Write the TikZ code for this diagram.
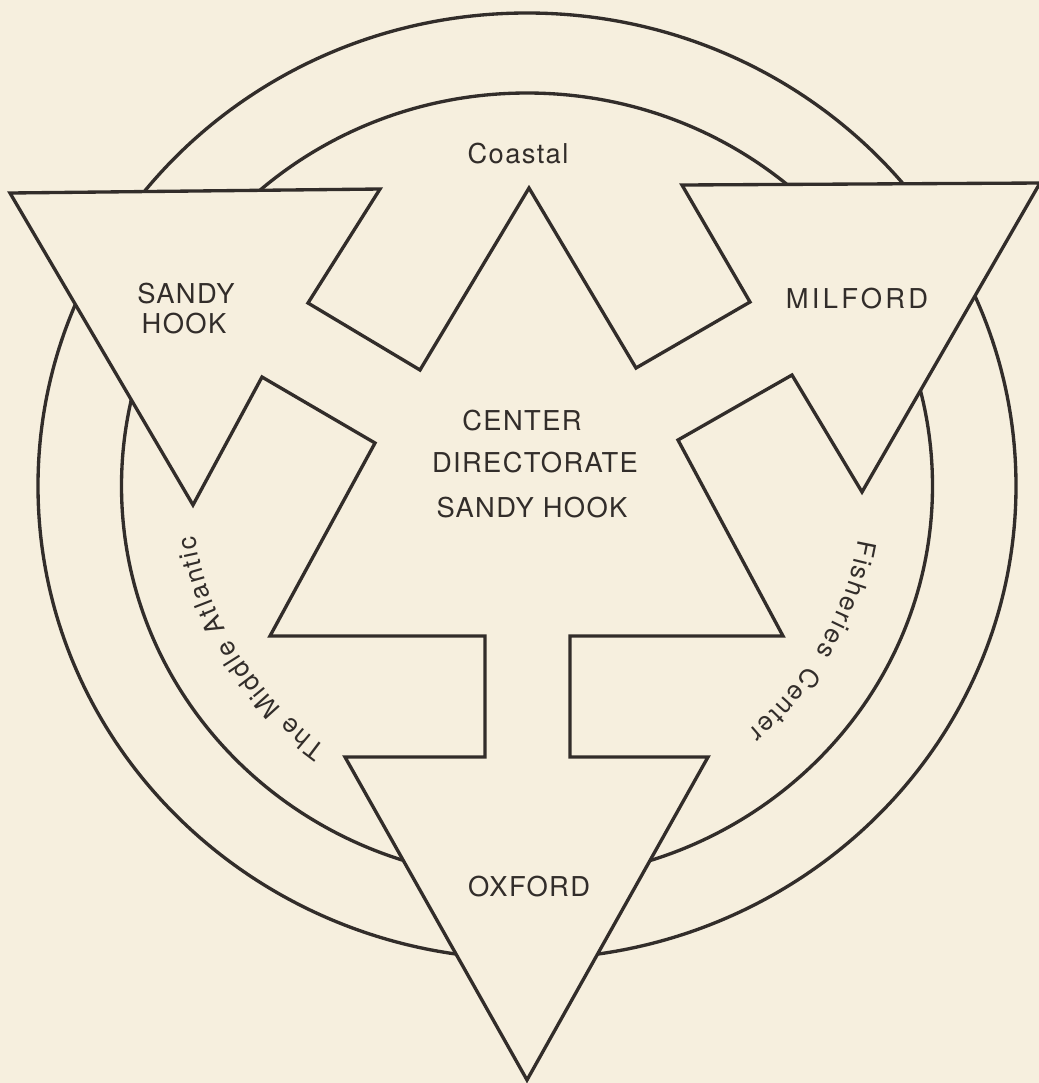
\documentclass[tikz,border=0pt]{standalone}
\usepackage{fontspec}
\setmainfont[LetterSpace=5]{TeX Gyre Heros}
\usetikzlibrary{decorations.text}
\definecolor{paper}{RGB}{246,239,222}
\definecolor{ink}{RGB}{50,45,42}
\newcommand\lblfont{\fontsize{20.5}{24}\selectfont}
\newcommand\arcfont{\fontsize{19.5}{22}\selectfont}
\begin{document}
\begin{tikzpicture}[x=0.75pt,y=-0.75pt,
  outline/.style={draw=ink,line width=2.5pt,line join=miter},
  ring/.style={draw=ink,line width=2.5pt},
  lbl/.style={text=ink,font=\lblfont,inner sep=0pt,anchor=base},
  arclbl/.style={decorate,decoration={text along path,text align=center,text color=ink}}]
\useasboundingbox (0,0) rectangle (1039,1083);
\fill[paper] (0,0) rectangle (1039,1083);
\coordinate (c) at (527,486);
% rings
\draw[ring] (c) ellipse [x radius=489, y radius=473];
\draw[ring] (c) ellipse [x radius=405.5, y radius=393];
% emblem outline
\draw[outline, fill=paper]
  (10,193) -- (380,189) -- (308,303) -- (420,370) -- (529,188) -- (636,368)
  -- (750,302) -- (682,185) -- (1040,183) -- (862,492) -- (792,375)
  -- (678,440) -- (783,636) -- (570,636) -- (570,757) -- (708,757)
  -- (527,1080) -- (345,757) -- (485,757) -- (485,636) -- (270,636)
  -- (375,443) -- (262,377) -- (193,505) -- cycle;
% labels
\node[lbl] (coastal) at (518,163) {Coastal};
\node[lbl] (sandy1) at (186,303) {SANDY};
\node[lbl] (hook1) at (184,333) {HOOK};
\node[lbl] (milford) at (857,308) {\addfontfeature{LetterSpace=12}MILFORD};
\node[lbl] (center) at (522,430) {CENTER};
\node[lbl] (direct) at (535,472) {DIRECTORATE};
\node[lbl] (sandyhook) at (532,517) {SANDY HOOK};
\node[lbl] (oxford) at (529,896) {OXFORD};
% curved labels
\path[arclbl, decoration={text={|\arcfont|{T\kern1.5pt}{h\kern1.5pt}{e\kern1.5pt} {M\kern1.5pt}{i\kern1.5pt}{d\kern1.5pt}{d\kern1.5pt}{l\kern1.5pt}{e\kern1.5pt} {A\kern1.5pt}{t\kern1.5pt}{l\kern1.5pt}{a\kern1.5pt}{n\kern1.5pt}{t\kern1.5pt}{i\kern1.5pt}{c}}}]
  (c) ++(-245:336 and 325) arc[start angle=-245, end angle=-177, x radius=336, y radius=325];
\path[arclbl, decoration={text={|\arcfont|{F\kern1.5pt}{i\kern1.5pt}{s\kern1.5pt}{h\kern1.5pt}{e\kern1.5pt}{r\kern1.5pt}{i\kern1.5pt}{e\kern1.5pt}{s\kern1.5pt} {\kern4pt}{C\kern1.5pt}{e\kern1.5pt}{n\kern1.5pt}{t\kern1.5pt}{e\kern1.5pt}{r}}}]
  (c) ++(-5:336 and 325) arc[start angle=-5, end angle=63, x radius=336, y radius=325];
\end{tikzpicture}
\end{document}
